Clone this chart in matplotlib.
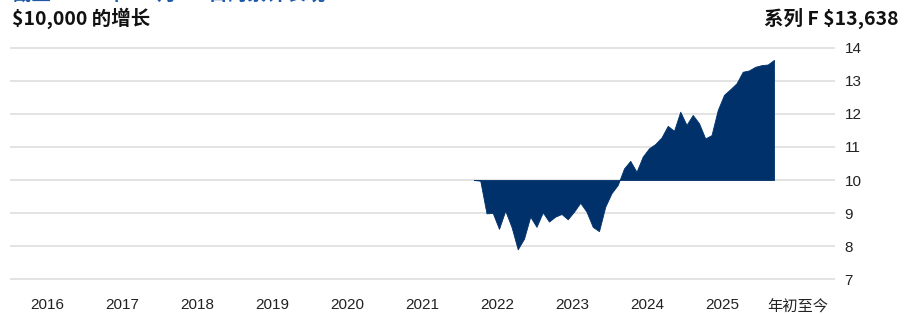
import matplotlib
matplotlib.use("Agg")
import numpy as np
from matplotlib import pyplot as plt

# 月末数值（千美元），从 2022 年 2 月末开始
start_year = 2022 + 2 / 12
values = [10.00, 9.98, 8.99, 9.00, 8.52, 9.07, 8.58, 7.90, 8.22, 8.89,
          8.58, 9.02, 8.74, 8.89, 8.97, 8.81, 9.04, 9.31, 9.04, 8.58,
          8.45, 9.19, 9.60, 9.85, 10.35, 10.58, 10.25, 10.71, 10.96, 11.09,
          11.29, 11.64, 11.49, 12.07, 11.67, 11.97, 11.72, 11.26, 11.36, 12.12,
          12.58, 12.75, 12.93, 13.28, 13.32, 13.43, 13.48, 13.50, 13.64]
base_value = 10
year_labels = ["2016", "2017", "2018", "2019", "2020", "2021",
               "2022", "2023", "2024", "2025", "年初至今"]
y_ticks = [7, 8, 9, 10, 11, 12, 13, 14]

title_left = "$10,000 的增长"
title_right = "系列 F $13,638"
top_title = "截至 2025 年 12 月 31 日的累计表现"

fill_color = "#00316b"
grid_color = "#e3e3e3"
cjk = ["Noto Sans CJK SC", "DejaVu Sans"]
latin = ["Liberation Sans", "Noto Sans CJK SC"]
narrow = ["Liberation Sans Narrow", "Liberation Sans", "Noto Sans CJK SC"]

x = start_year + np.arange(len(values)) / 12

fig = plt.figure(figsize=(9.10, 3.14), dpi=100)
ax = fig.add_axes([10 / 910, 24 / 314, 825 / 910, 250 / 314])

ax.fill_between(x + 0.02, values, base_value, color=fill_color, linewidth=0.6,
                edgecolor=fill_color, zorder=3)

ax.set_xlim(2016, 2027)
ax.set_ylim(6.667, 14.242)

ax.set_yticks(y_ticks)
ax.yaxis.tick_right()
ax.set_yticklabels([str(t) for t in y_ticks], family=latin, fontsize=11, color="#222222")
ax.tick_params(axis="y", length=0, pad=7)
for lab in ax.get_yticklabels():
    lab.set_horizontalalignment("left")

xt = [2016.5 + i for i in range(len(year_labels))]
ax.set_xticks(xt)
ax.set_xticklabels(year_labels, fontsize=11, color="#222222")
for lab in ax.get_xticklabels():
    if lab.get_text() == "年初至今":
        lab.set_family(cjk)
    else:
        lab.set_family(narrow)
ax.tick_params(axis="x", length=0, pad=6)

ax.grid(axis="y", color=grid_color, linewidth=1.4, zorder=0)
ax.set_axisbelow(True)
for s in ax.spines.values():
    s.set_visible(False)

fig.text(12 / 910, 1 - 18 / 314, title_left, family=cjk, fontsize=14,
         fontweight="bold", ha="left", va="center", color="#111111")
fig.text(898 / 910, 1 - 18 / 314, title_right, family=cjk, fontsize=14,
         fontweight="bold", ha="right", va="center", color="#111111")
fig.text(12 / 910, 1 + 6 / 314, top_title, family=cjk, fontsize=14,
         fontweight="bold", ha="left", va="center", color="#1f5aa6")

fig.savefig("out.png", dpi=100)
